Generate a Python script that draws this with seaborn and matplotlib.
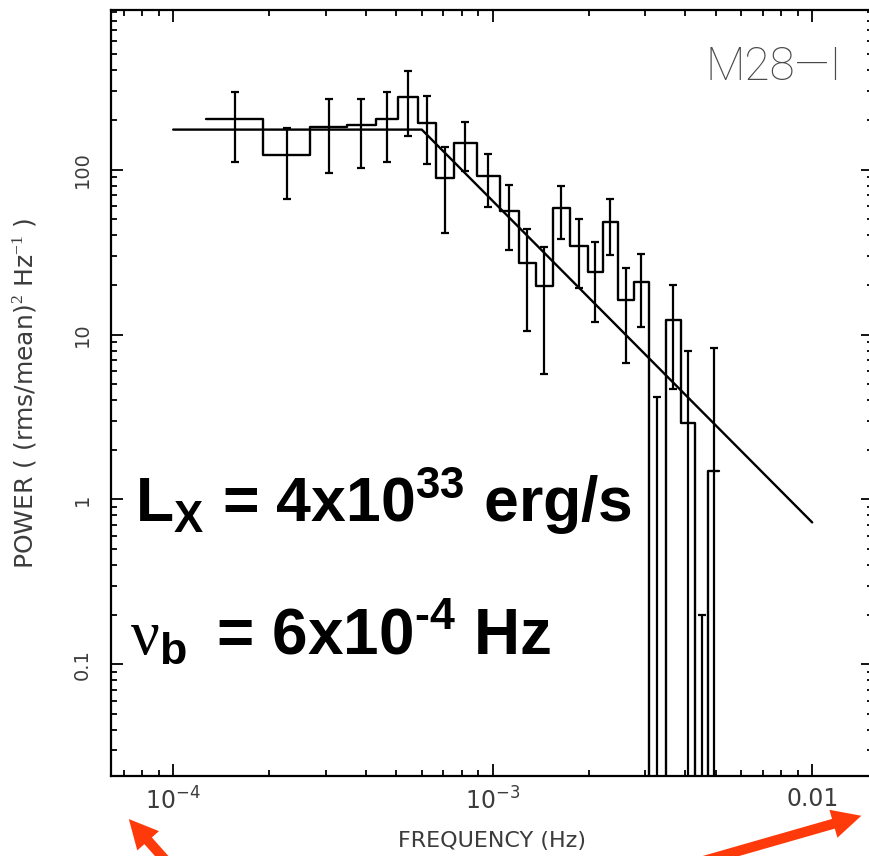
import numpy as np
import pandas as pd
import matplotlib
matplotlib.use("Agg")
import matplotlib.pyplot as plt
import seaborn as sns
from matplotlib.patches import FancyArrowPatch
from matplotlib.ticker import FixedLocator, FixedFormatter, LogLocator, NullFormatter

# Binned power density spectrum: frequency bin edges (Hz), power and 1-sigma errors
bin_edges = [1.27e-4, 1.915e-4, 2.69e-4, 3.49e-4, 4.30e-4, 5.04e-4, 5.82e-4,
             6.63e-4, 7.55e-4, 8.91e-4, 1.052e-3, 1.206e-3, 1.364e-3, 1.542e-3,
             1.743e-3, 1.986e-3, 2.213e-3, 2.466e-3, 2.767e-3, 3.083e-3,
             3.486e-3, 3.884e-3, 4.298e-3, 4.721e-3, 5.12e-3]
power = [204, 122, 182, 186, 204, 277, 193, 89.4, 146, 92, 56.4, 27, 19.8,
         58.8, 34.6, 24.1, 48.4, 16.1, 20.9, -2.5, 12.3, 2.89, -1.5, 1.48]
power_err = [92, 56, 87, 84, 92, 118, 85, 48, 48, 33, 24, 16.5, 14, 21, 15.5,
             12.2, 17.9, 9.4, 9.8, 6.7, 7.6, 5.1, 1.7, 6.8]

# Broken power-law model: flat below the break, power law above it
fit_limits = [1e-4, 1e-2]
break_freq = 6e-4
fit_norm = 175.0
fit_index = 1.95

x_ticks = [1e-4, 1e-3, 1e-2]
x_ticklabels = [r"$\mathdefault{10^{-4}}$", r"$\mathdefault{10^{-3}}$", "0.01"]
y_ticks = [0.1, 1, 10, 100]
y_ticklabels = ["0.1", "1", "10", "100"]

sns.set_theme(style="ticks")
plt.rcParams["font.family"] = ["DejaVu Sans"]
plt.rcParams["mathtext.fontset"] = "custom"
plt.rcParams["mathtext.bf"] = "Liberation Sans:bold"
plt.rcParams["mathtext.rm"] = "Liberation Serif"

W, H = 869, 856
fig = plt.figure(figsize=(W / 100, H / 100), dpi=100)
ax = fig.add_axes([111 / W, (H - 776) / H, (873 - 111) / W, (776 - 10) / H])

floor = 1e-3
edges = np.array(bin_edges)
p = np.array(power, dtype=float)
e = np.array(power_err, dtype=float)
centers = np.sqrt(edges[:-1] * edges[1:])

# Step histogram of the spectrum
step_df = pd.DataFrame({"freq": edges,
                        "power": np.clip(np.append(p, p[-1]), floor, None)})
sns.lineplot(data=step_df, x="freq", y="power", drawstyle="steps-post",
             estimator=None, sort=False, color="black", lw=1.7, ax=ax)

# Error bars at bin centres
yc = np.clip(p, floor, None)
lo = np.clip(p - e, floor, None)
hi = p + e
ax.errorbar(centers, yc, yerr=[yc - lo, hi - yc], fmt="none", ecolor="black",
            elinewidth=1.6, capsize=3, capthick=1.6)

# Model curve
fit_freq = np.array([fit_limits[0], break_freq, fit_limits[1]])
fit_power = fit_norm * np.where(fit_freq <= break_freq, 1.0,
                                (fit_freq / break_freq) ** (-fit_index))
sns.lineplot(x=fit_freq, y=fit_power, color="black", lw=1.7, ax=ax,
             estimator=None, sort=False)

ax.set_xscale("log")
ax.set_yscale("log")
ax.set_xlim(6.39e-5, 0.0155)
ax.set_ylim(0.021, 930)

ax.xaxis.set_major_locator(FixedLocator(x_ticks))
ax.xaxis.set_major_formatter(FixedFormatter(x_ticklabels))
ax.yaxis.set_major_locator(FixedLocator(y_ticks))
ax.yaxis.set_major_formatter(FixedFormatter(y_ticklabels))
for axis in (ax.xaxis, ax.yaxis):
    axis.set_minor_locator(LogLocator(base=10, subs=np.arange(2, 10), numticks=20))
    axis.set_minor_formatter(NullFormatter())

label_color = "#3c3c3c"
ax.tick_params(which="both", direction="in", top=True, right=True,
               color="black", width=1.3, labelcolor=label_color)
ax.tick_params(which="major", length=8.5)
ax.tick_params(which="minor", length=4.2)
ax.tick_params(axis="x", which="major", pad=8, labelsize=17)
ax.tick_params(axis="y", which="major", pad=14, labelsize=14, labelrotation=90)
for lab in ax.get_xticklabels():
    lab.set_fontfamily("Liberation Sans Narrow")
for lab in ax.get_yticklabels():
    lab.set_verticalalignment("center")
for s in ax.spines.values():
    s.set_linewidth(1.6)
    s.set_color("black")

ax.set_xlabel("FREQUENCY (Hz)", fontsize=16, color=label_color,
              family="Liberation Sans Narrow", labelpad=12)
ax.set_ylabel(r"POWER ( (rms/mean)$^{2}$ Hz$^{-1}$ )", fontsize=18,
              color=label_color, labelpad=24)

ax.text(705 / W, 1 - 80 / H, "M28\u2014I", transform=fig.transFigure,
        fontsize=33, color="#4a4a4a", family="Roboto", fontweight="light",
        ha="left", va="baseline")

ax.text(135 / W, 1 - 522 / H, r"L$_\mathbf{X}$ = 4x10$^\mathbf{33}$ erg/s",
        transform=fig.transFigure, fontsize=45, fontweight="bold",
        family="Liberation Sans", color="black", ha="left", va="baseline")
ax.text(130 / W, 1 - 653 / H,
        "$\\mathrm{\\nu}_\\mathbf{b}\\,$ = 6x10$^\\mathbf{\u20104}$ Hz",
        transform=fig.transFigure, fontsize=46, fontweight="bold",
        family="Liberation Sans", color="black", ha="left", va="baseline")

arrow_color = "#ff3a0a"
for tail, tip in [((167, 862), (127, 817)), ((700, 862), (864, 815))]:
    fig.patches.append(FancyArrowPatch(
        (tail[0] / W, 1 - tail[1] / H), (tip[0] / W, 1 - tip[1] / H),
        transform=fig.transFigure,
        arrowstyle="simple,head_width=0.95,head_length=0.95,tail_width=0.33",
        mutation_scale=22, color=arrow_color, lw=0, clip_on=False))

fig.savefig("out.png", dpi=100)
